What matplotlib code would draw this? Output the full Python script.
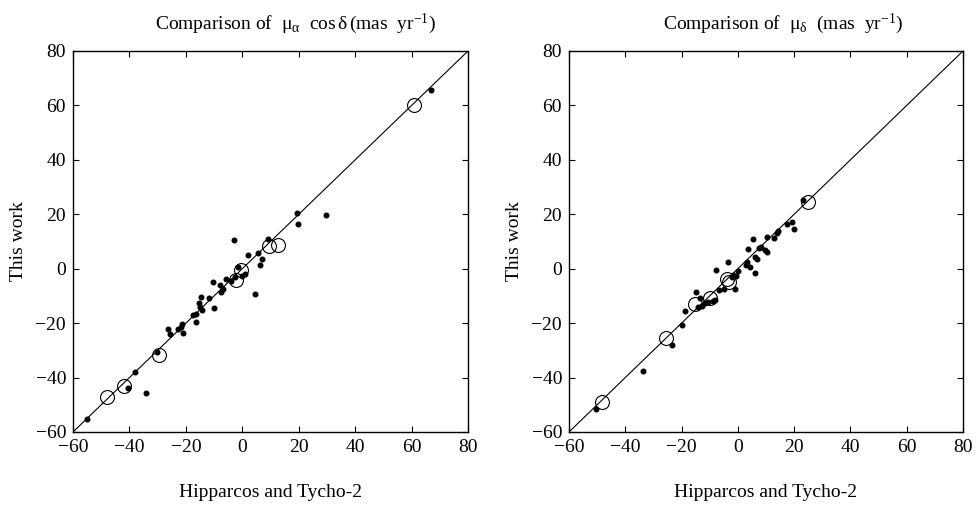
import numpy as np
import matplotlib
matplotlib.use("Agg")
import matplotlib.pyplot as plt

plt.rcParams['font.family'] = ['Liberation Serif', 'DejaVu Serif']
plt.rcParams['mathtext.fontset'] = 'custom'
plt.rcParams['mathtext.rm'] = 'Liberation Serif'
plt.rcParams['mathtext.it'] = 'Liberation Serif:italic'
plt.rcParams['mathtext.sf'] = 'Liberation Sans'

# left panel: mu_alpha cos delta
ra_dot_x = [19.3, 29.6, 19.8, -2.8, 9.2, 2.0, 5.5, 6.8, 6.3, -1.4, 1.0, -0.2, -2.6, -4.0,
            -5.9, -8.0, -10.3, -6.8, -7.6, 4.5, -11.7, -14.7, -9.9, -15.2, -15.0, -14.4,
            -16.4, -17.4, -16.5, -21.5, -21.8, -22.7, -20.9, -26.2, -25.6, -30.3, -40.6,
            -38.0, -34.0, -55.2, 66.9]
ra_dot_y = [20.6, 19.8, 16.4, 10.7, 11.0, 5.0, 5.7, 3.7, 1.3, 0.8, -1.9, -2.7, -2.9, -4.5,
            -3.9, -6.1, -4.8, -7.6, -8.4, -9.4, -10.8, -10.4, -14.5, -12.5, -14.0, -15.0,
            -16.6, -17.0, -19.6, -20.3, -21.3, -22.3, -23.5, -22.1, -24.1, -30.5, -43.7,
            -38.1, -45.7, -55.2, 65.7]
ra_circ_x = [61.0, 9.5, 12.8, -0.4, -2.2, -29.5, -41.9, -48.1]
ra_circ_y = [60.2, 8.4, 8.8, -0.5, -4.1, -31.8, -43.1, -47.0]

# right panel: mu_delta
de_dot_x = [23.3, 19.1, 17.4, 20.0, 14.4, 13.8, 10.5, 13.0, 5.3, 8.1, 7.5, 9.7, 10.3, 3.5,
            6.1, 6.9, 3.1, 2.8, 4.3, -3.6, 6.1, 0.2, -0.6, -7.8, -1.6, -2.2, -4.8, -0.9,
            -6.6, -8.1, -15.0, -13.4, -14.0, -12.8, -11.7, -10.5, -8.7, -18.8, -19.7,
            -23.5, -33.6, -50.5]
de_dot_y = [25.3, 17.3, 16.3, 14.6, 13.9, 13.0, 11.8, 11.4, 11.0, 8.1, 7.5, 6.9, 6.3, 7.1,
            4.4, 3.6, 2.6, 1.4, 0.8, 2.4, -1.7, -0.8, -2.6, -0.5, -2.3, -3.1, -7.4, -7.4,
            -7.8, -11.5, -8.7, -10.9, -14.0, -13.7, -12.7, -12.1, -11.9, -15.4, -20.7,
            -28.0, -37.6, -51.7]
de_circ_x = [25.0, -4.0, -3.1, -15.2, -9.9, -25.4, -48.2]
de_circ_y = [24.6, -3.9, -4.8, -13.0, -10.9, -25.3, -48.9]

ticks = [-60, -40, -20, 0, 20, 40, 60, 80]

fig = plt.figure(figsize=(9.79, 5.05), dpi=100)
ax1 = fig.add_axes([0.0746, 0.1446, 0.4035, 0.7545])
ax2 = fig.add_axes([0.5812, 0.1446, 0.4025, 0.7545])

panels = [
    (ax1, ra_dot_x, ra_dot_y, ra_circ_x, ra_circ_y,
     r'Comparison of  $\mathrm{\mu}_{\mathrm{\alpha}}$  cos$\,\mathrm{\delta}\,$(mas  yr$^{-1}$)', 0.562),
    (ax2, de_dot_x, de_dot_y, de_circ_x, de_circ_y,
     r'Comparison of  $\mathrm{\mu}_{\mathrm{\delta}}$  (mas  yr$^{-1}$)', 0.543),
]

for ax, dx, dy, cx, cy, title, tx in panels:
    ax.plot([-60, 80], [-60, 80], color='black', lw=0.8, zorder=1)
    ax.plot(dx, dy, 'o', color='black', ms=3.3, zorder=3)
    ax.plot(cx, cy, 'o', mfc='none', mec='black', ms=10, mew=0.8, zorder=2)
    ax.set_xlim(-60, 80)
    ax.set_ylim(-60, 80)
    ax.set_xticks(ticks)
    ax.set_yticks(ticks)
    ax.tick_params(direction='in', top=True, right=True, length=4, width=0.8,
                   labelsize=14, pad=5)
    for s in ax.spines.values():
        s.set_linewidth(1.0)
    ax.set_xlabel('Hipparcos and Tycho-2', fontsize=14, labelpad=20)
    ax.set_ylabel('This work', fontsize=14, labelpad=6)
    ax.text(tx, 1.058, title, transform=ax.transAxes, ha='center', va='baseline',
            fontsize=14)

fig.savefig('out.png', dpi=100)
